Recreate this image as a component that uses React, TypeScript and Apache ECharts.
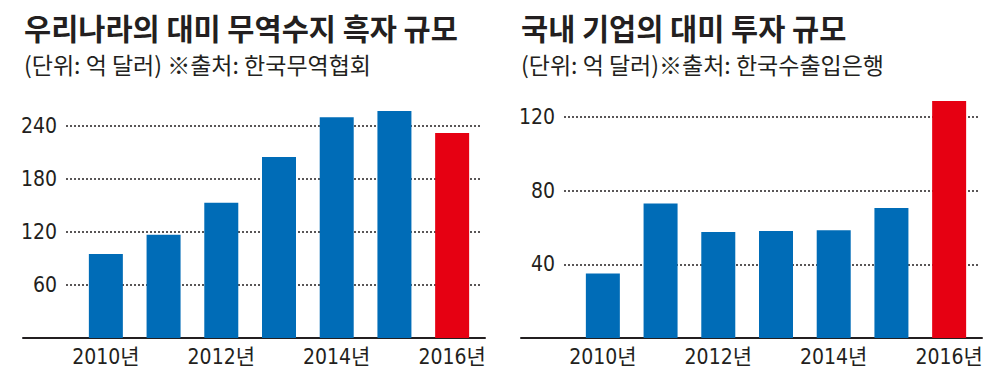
import React, { useEffect, useRef } from "react";
import * as echarts from "echarts";

// ---- data ----
const years = ["2010년", "2011년", "2012년", "2013년", "2014년", "2015년", "2016년"];
const tradeSurplus = [95, 117, 153, 205, 250, 257, 232];
const usInvestment = [35, 73, 57.5, 58, 58.5, 70.5, 128.5];
const highlightYear = "2016년";

const leftTitle = "우리나라의 대미 무역수지 흑자 규모";
const leftSub = "(단위: 억 달러) ※출처: 한국무역협회";
const rightTitle = "국내 기업의 대미 투자 규모";
const rightSub = "(단위: 억 달러)※출처: 한국수출입은행";

const leftAxis = { min: 0, max: 300, interval: 60 };
const rightAxis = { min: 0, max: 160, interval: 40 };

// ---- styles ----
const INK = "#231f20";
const BLUE = "#006cb7";
const RED = "#e60012";
const NUM_FONT = "'Liberation Sans Narrow', 'DejaVu Sans Condensed', 'Noto Sans CJK KR', sans-serif";
const KR_FONT = "'Noto Sans CJK KR', 'Noto Sans', sans-serif";

function barData(values: number[]) {
  return values.map((v, i) => ({
    value: v,
    itemStyle: { color: years[i] === highlightYear ? RED : BLUE },
  }));
}

function chartParts(
  g: number,
  axis: { min: number; max: number; interval: number },
  values: number[]
) {
  const xAxis = [
    {
      type: "category",
      gridIndex: g,
      data: years,
      axisLine: { show: true, lineStyle: { color: INK, width: 2 } },
      axisTick: { show: false },
      axisLabel: { show: false },
    },
    { type: "category", gridIndex: g + 1, data: years, show: false },
    {
      type: "category",
      gridIndex: g + 2,
      data: years,
      axisLine: { show: false },
      axisTick: { show: false },
      axisLabel: {
        interval: 1,
        fontSize: 21,
        fontFamily: NUM_FONT,
        color: INK,
        margin: 8,
      },
    },
  ];
  const yAxis = [
    { type: "value", gridIndex: g, min: axis.min, max: axis.max, show: false },
    {
      type: "value",
      gridIndex: g + 1,
      min: axis.min,
      max: axis.max,
      interval: axis.interval,
      axisLine: { show: false },
      axisTick: { show: false },
      axisLabel: {
        showMinLabel: false,
        showMaxLabel: false,
        fontSize: 21,
        fontFamily: NUM_FONT,
        color: INK,
        margin: 9,
      },
      splitLine: {
        show: true,
        showMinLine: false,
        showMaxLine: false,
        lineStyle: { color: INK, width: 1.6, type: [2, 2] },
      },
    },
    { type: "value", gridIndex: g + 2, min: axis.min, max: axis.max, show: false },
  ];
  const series = [
    {
      type: "bar",
      xAxisIndex: g + 2,
      yAxisIndex: g + 2,
      data: barData(values),
      barWidth: 34,
    },
  ];
  return { xAxis, yAxis, series };
}

export default function App() {
  const ref = useRef<HTMLDivElement>(null);
  useEffect(() => {
    document.body.style.margin = "0";
    const chart = echarts.init(ref.current!, undefined, { renderer: "svg" });
    const L = chartParts(0, leftAxis, tradeSurplus);
    const R = chartParts(3, rightAxis, usInvestment);
    const titleStyle = { fontFamily: KR_FONT, fontWeight: "bold", fontSize: 29.5, color: INK };
    const subStyle = { fontFamily: KR_FONT, fontWeight: "normal", fontSize: 23, color: INK };
    chart.setOption({
      animation: false,
      backgroundColor: "#ffffff",
      title: [
        { text: leftTitle, left: 19, top: 7, textStyle: titleStyle },
        { text: leftSub, left: 19, top: 47, textStyle: subStyle },
        { text: rightTitle, left: 516, top: 7, textStyle: titleStyle },
        { text: rightSub, left: 516, top: 47, textStyle: subStyle },
      ],
      grid: [
        { left: 23, right: 515, top: 73, bottom: 46 },
        { left: 66, right: 518, top: 73, bottom: 46 },
        { left: 77, right: 519, top: 73, bottom: 46 },
        { left: 521, right: 18, top: 43, bottom: 46 },
        { left: 564, right: 21, top: 43, bottom: 46 },
        { left: 574, right: 22, top: 43, bottom: 46 },
      ],
      xAxis: [...L.xAxis, ...R.xAxis],
      yAxis: [...L.yAxis, ...R.yAxis],
      series: [...L.series, ...R.series],
    });
    return () => chart.dispose();
  }, []);
  return (
    <div
      ref={ref}
      style={{ position: "absolute", left: 0, top: 0, width: 1000, height: 384 }}
    />
  );
}
